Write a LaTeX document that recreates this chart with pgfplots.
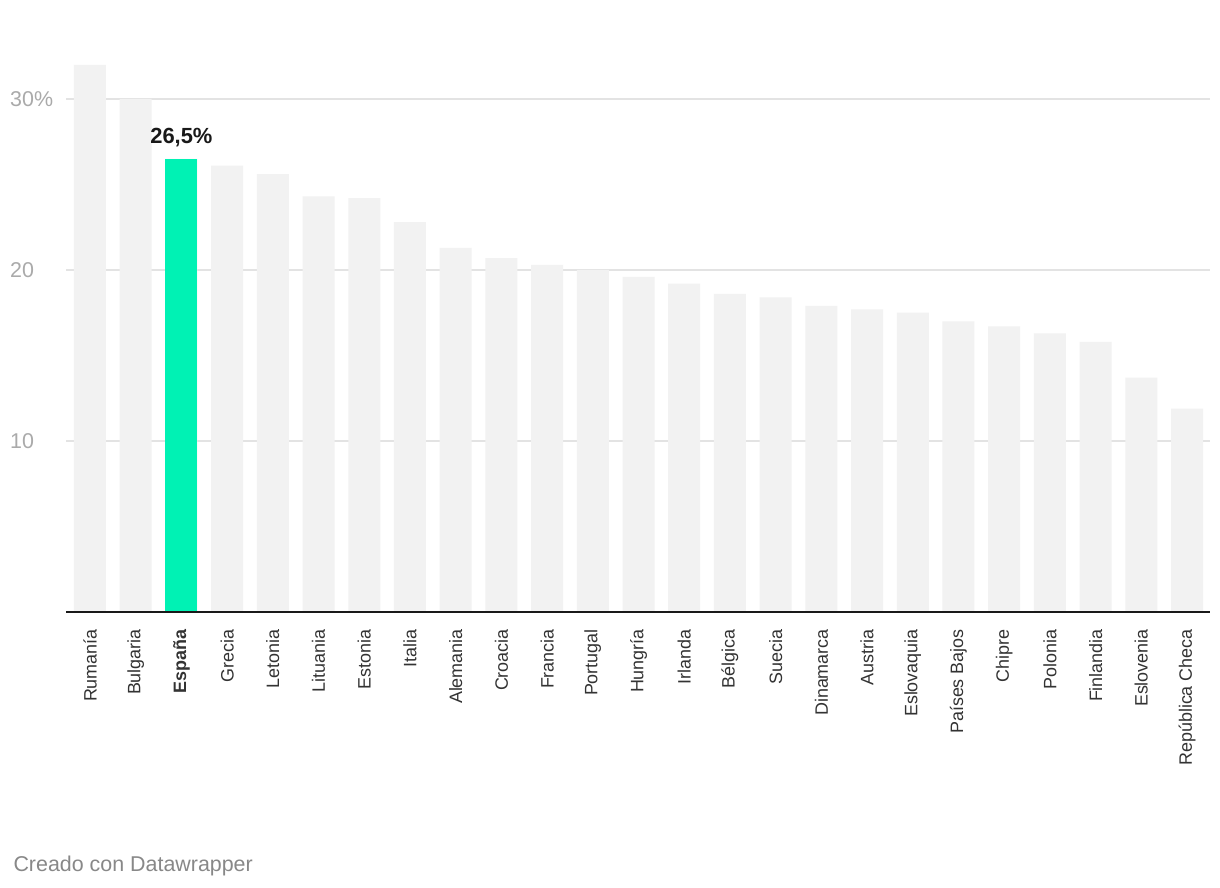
\documentclass[border=0pt]{standalone}
\usepackage{pgfplots}
\pgfplotsset{compat=1.18}
\usepackage{fontspec}
\setmainfont{Liberation Sans}
\definecolor{barg}{HTML}{F2F2F2}
\definecolor{mint}{HTML}{00F2B4}
\definecolor{gridc}{HTML}{E3E3E3}
\definecolor{ytc}{HTML}{AAAAAA}
\definecolor{xtc}{HTML}{333333}
\definecolor{foot}{HTML}{888888}
\begin{document}
\begin{tikzpicture}[x=1bp,y=1bp]
\path[use as bounding box, fill=white] (0,0) rectangle (1220,888);
\begin{axis}[
  at={(66bp,276bp)}, anchor=south west,
  scale only axis, width=1144bp, height=612bp,
  xmin=-0.525, xmax=24.503, ymin=0, ymax=35.79,
  axis x line*=bottom, axis y line*=left,
  y axis line style={draw=none},
  x axis line style={draw=none},
  major tick length=0pt,
  ymajorgrids, grid style={gridc, line width=1.5bp},
  ytick={10,20,30}, yticklabels={10,20,30\%},
  yticklabel style={anchor=west, inner sep=0pt, font=\fontsize{21.5}{21.5}\selectfont, text=ytc},
  yticklabel shift=56bp,
  xtick={0,...,24},
  xticklabels={Rumanía,Bulgaria,\textbf{España},Grecia,Letonia,Lituania,Estonia,Italia,Alemania,Croacia,Francia,Portugal,Hungría,Irlanda,Bélgica,Suecia,Dinamarca,Austria,Eslovaquia,Países Bajos,Chipre,Polonia,Finlandia,Eslovenia,República Checa},
  xticklabel style={rotate=90, anchor=east, inner sep=0pt, font=\fontsize{18}{18}\selectfont, text=xtc},
  xticklabel shift=17bp,
  clip=false,
]
\addplot[ybar, bar width=32bp, bar shift=0pt, fill=barg, draw=none] coordinates {
(0,32.0) (1,30.0) (2,26.5) (3,26.1) (4,25.6) (5,24.3) (6,24.2) (7,22.8) (8,21.3) (9,20.7)
(10,20.3) (11,20.0) (12,19.6) (13,19.2) (14,18.6) (15,18.4) (16,17.9) (17,17.7) (18,17.5)
(19,17.0) (20,16.7) (21,16.3) (22,15.8) (23,13.7) (24,11.9)};
\addplot[ybar, bar width=32bp, bar shift=0pt, fill=mint, draw=none] coordinates {(2,26.5)};
\draw[black!90, line width=2bp] (rel axis cs:0,0) -- (rel axis cs:1,0);
\node[anchor=base, font=\fontsize{22}{22}\selectfont\bfseries, text=black!90, yshift=15bp] at (axis cs:2,26.5) {26,5\%};
\end{axis}
\node[anchor=base west, text=foot, font=\fontsize{21.5}{21.5}\selectfont] at (10,16) {Creado con Datawrapper};
\end{tikzpicture}
\end{document}
